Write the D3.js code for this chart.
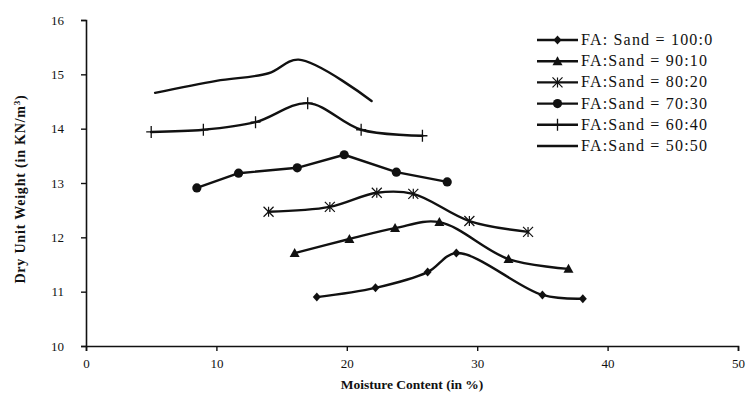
<!DOCTYPE html>
<html>
<head>
<meta charset="utf-8">
<script src="https://cdn.jsdelivr.net/npm/d3@7"></script>
<style>
  html, body { margin: 0; padding: 0; background: #fff; }
  svg { display: block; }
  text { font-family: "Liberation Serif", "Times New Roman", serif; fill: #111; }
</style>
</head>
<body>
<svg id="chart" width="748" height="405"></svg>
<script>
// Compaction curves: moisture content (%) vs dry unit weight (kN/m³)
const seriesNames = [
  "FA: Sand = 100:0",
  "FA:Sand = 90:10",
  "FA:Sand = 80:20",
  "FA:Sand = 70:30",
  "FA:Sand = 60:40",
  "FA:Sand = 50:50"
];
const moisture100_0 = [17.7, 22.2, 26.2, 28.4, 35.0, 38.1];
const weight100_0   = [10.90, 11.07, 11.36, 11.71, 10.94, 10.87];
const moisture90_10 = [16.0, 20.2, 23.7, 27.1, 32.4, 37.0];
const weight90_10   = [11.71, 11.97, 12.17, 12.28, 11.60, 11.42];
const moisture80_20 = [14.0, 18.7, 22.3, 25.1, 29.4, 33.9];
const weight80_20   = [12.47, 12.56, 12.82, 12.80, 12.30, 12.10];
const moisture70_30 = [8.5, 11.7, 16.2, 19.8, 23.8, 27.7];
const weight70_30   = [12.91, 13.18, 13.28, 13.52, 13.20, 13.02];
const moisture60_40 = [5.0, 9.0, 13.0, 17.0, 21.1, 25.8];
const weight60_40   = [13.94, 13.98, 14.12, 14.47, 13.98, 13.87];
const moisture50_50 = [5.3, 10.0, 14.0, 16.3, 21.9];
const weight50_50   = [14.66, 14.88, 15.02, 15.27, 14.51];
const xTicks = [0, 10, 20, 30, 40, 50];
const yTicks = [10, 11, 12, 13, 14, 15, 16];

const series = [
  { name: seriesNames[0], xs: moisture100_0, ys: weight100_0, marker: "diamond", smooth: true },
  { name: seriesNames[1], xs: moisture90_10, ys: weight90_10, marker: "triangle", smooth: true },
  { name: seriesNames[2], xs: moisture80_20, ys: weight80_20, marker: "asterisk", smooth: true },
  { name: seriesNames[3], xs: moisture70_30, ys: weight70_30, marker: "circle", smooth: false },
  { name: seriesNames[4], xs: moisture60_40, ys: weight60_40, marker: "plus", smooth: true },
  { name: seriesNames[5], xs: moisture50_50, ys: weight50_50, marker: "none", smooth: true }
];

const svg = d3.select("#chart");
const x = d3.scaleLinear().domain([0, 50]).range([86, 738]);
const y = d3.scaleLinear().domain([10, 16]).range([346, 20]);

// Axes
const xAxis = d3.axisBottom(x).tickValues(xTicks).tickFormat(d3.format("d")).tickSize(5).tickPadding(8);
const yAxis = d3.axisLeft(y).tickValues(yTicks).tickFormat(d3.format("d")).tickSize(5).tickPadding(17);

const gx = svg.append("g").attr("transform", `translate(0,${y(10)})`).call(xAxis);
const gy = svg.append("g").attr("transform", `translate(${x(0)},0)`).call(yAxis);
[gx, gy].forEach(g => {
  g.select(".domain").attr("stroke", "#111").attr("stroke-width", 1.6);
  g.selectAll(".tick line").attr("stroke", "#111").attr("stroke-width", 1.4);
  g.selectAll(".tick text")
    .attr("font-family", "Liberation Serif, serif")
    .attr("font-size", 13)
    .attr("fill", "#222");
});

// Axis titles
svg.append("text")
  .attr("x", 412).attr("y", 389)
  .attr("text-anchor", "middle")
  .attr("font-size", 13.5).attr("font-weight", "bold")
  .text("Moisture Content (in %)");

const yTitle = svg.append("text")
  .attr("transform", "translate(25,189) rotate(-90)")
  .attr("text-anchor", "middle")
  .attr("font-size", 14).attr("font-weight", "bold")
  .attr("letter-spacing", 0.8);
yTitle.append("tspan").text("Dry Unit Weight (in KN/m");
yTitle.append("tspan").attr("font-size", 9).attr("dy", -5).text("3");
yTitle.append("tspan").attr("dy", 5).text(")");

// Marker shapes
function drawMarker(g, type, cx, cy) {
  const s = "#111";
  if (type === "diamond") {
    g.append("path").attr("d", `M${cx},${cy - 4.5}L${cx + 4},${cy}L${cx},${cy + 4.5}L${cx - 4},${cy}Z`).attr("fill", s);
  } else if (type === "triangle") {
    g.append("path").attr("d", `M${cx},${cy - 5}L${cx + 5},${cy + 4}L${cx - 5},${cy + 4}Z`).attr("fill", s);
  } else if (type === "circle") {
    g.append("circle").attr("cx", cx).attr("cy", cy).attr("r", 4.6).attr("fill", s);
  } else if (type === "asterisk") {
    const r = 5;
    g.append("path")
      .attr("d", `M${cx - r},${cy - r}L${cx + r},${cy + r}M${cx - r},${cy + r}L${cx + r},${cy - r}M${cx},${cy - r}L${cx},${cy + r}`)
      .attr("stroke", s).attr("stroke-width", 1.2).attr("fill", "none");
  } else if (type === "plus") {
    g.append("path")
      .attr("d", `M${cx},${cy - 6}L${cx},${cy + 6}M${cx - 5},${cy}L${cx + 5},${cy}`)
      .attr("stroke", s).attr("stroke-width", 1.3).attr("fill", "none");
  }
}

const plot = svg.append("g");
series.forEach(sr => {
  const pts = sr.xs.map((v, i) => [v, sr.ys[i]]);
  const line = d3.line()
    .x(d => x(d[0])).y(d => y(d[1]))
    .curve(sr.smooth ? d3.curveCatmullRom.alpha(0.5) : d3.curveLinear);
  plot.append("path")
    .attr("d", line(pts))
    .attr("fill", "none")
    .attr("stroke", "#111")
    .attr("stroke-width", 2.4)
    .attr("stroke-linejoin", "round")
    .attr("stroke-linecap", "round");
  const mg = plot.append("g");
  pts.forEach(p => drawMarker(mg, sr.marker, x(p[0]), y(p[1])));
});

// Legend
const legend = svg.append("g");
series.forEach((sr, i) => {
  const ly = 40 + i * 21.2;
  const row = legend.append("g");
  row.append("line")
    .attr("x1", 537).attr("x2", 578).attr("y1", ly).attr("y2", ly)
    .attr("stroke", "#111").attr("stroke-width", 2.4);
  drawMarker(row, sr.marker, 557.5, ly);
  row.append("text")
    .attr("x", 581).attr("y", ly + 5)
    .attr("font-size", 16)
    .attr("letter-spacing", 1.2)
    .text(sr.name);
});
</script>
</body>
</html>
